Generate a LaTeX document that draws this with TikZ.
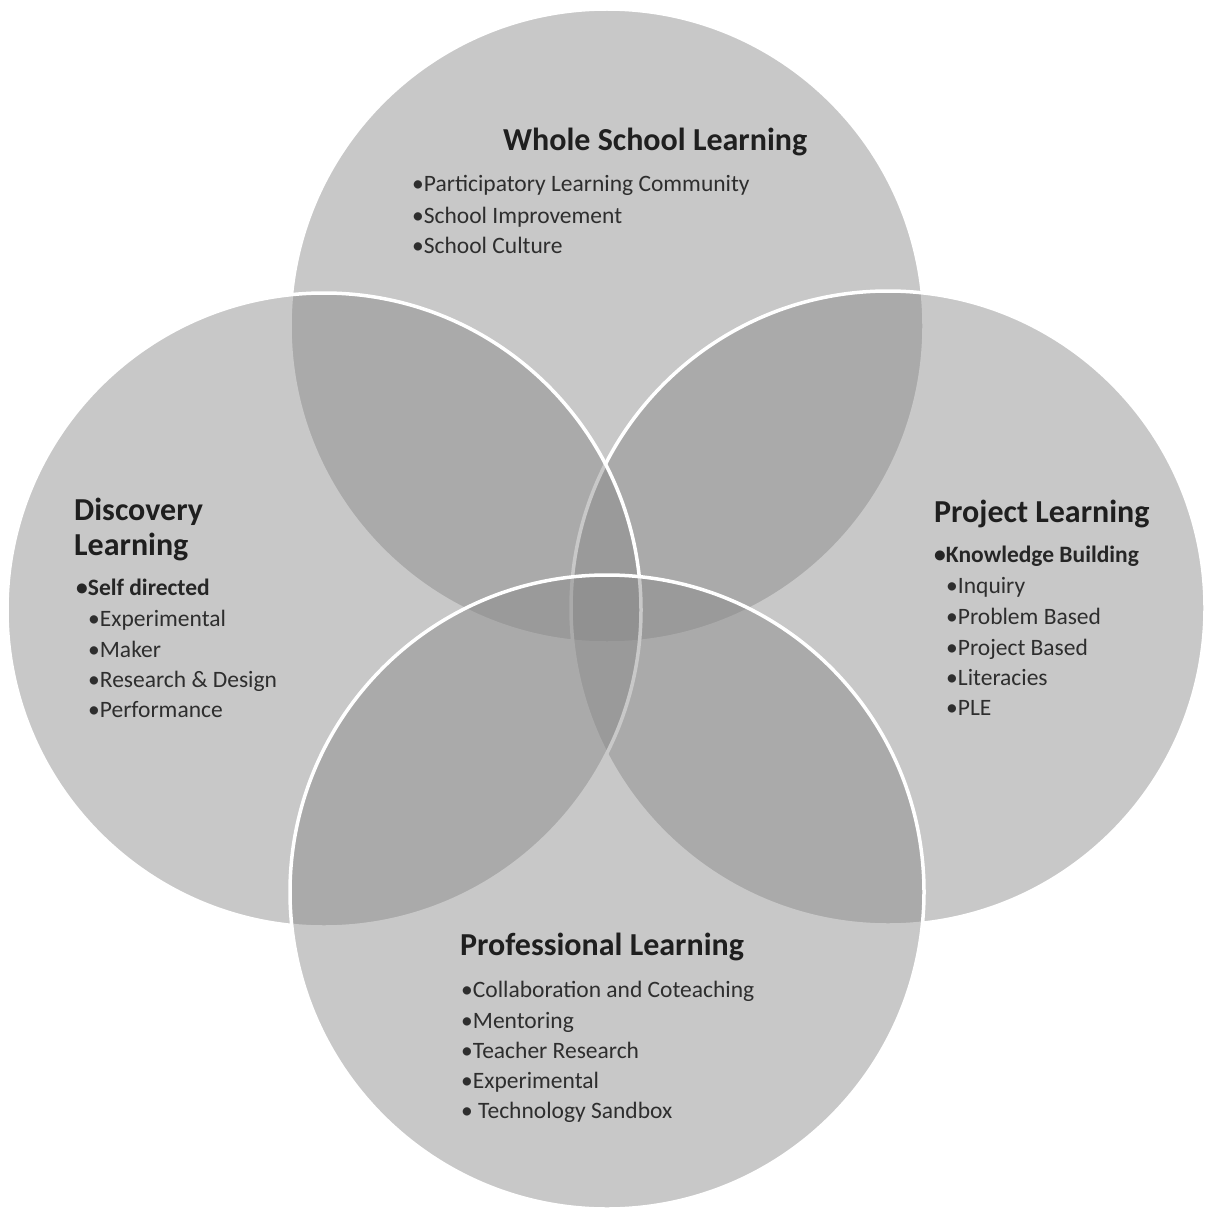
\documentclass[tikz,border=0pt]{standalone}
\usepackage{fontspec}
\setmainfont{Carlito}
\begin{document}
\begin{tikzpicture}[x=1pt,y=-1pt,
  ring/.style={circle, minimum size=634pt, inner sep=0pt,
    fill=black!47, fill opacity=0.45, draw=white, draw opacity=1, line width=3.5pt},
  heading/.style={anchor=base west, inner sep=0pt, font=\fontsize{32}{37}\selectfont\bfseries, text=black!88},
  lead/.style={anchor=base west, inner sep=0pt, font=\fontsize{23.5}{28}\selectfont\bfseries, text=black!85},
  item/.style={anchor=base west, inner sep=0pt, font=\fontsize{23.5}{28}\selectfont, text=black!82}]
\useasboundingbox (0,0) rectangle (1206,1209);
\fill[white] (0,0) rectangle (1206,1209);

% the four overlapping circles
\node[ring] (whole) at (607,326) {};
\node[ring] (project) at (888,608) {};
\node[ring] (discovery) at (324,610) {};
\node[ring] (professional) at (607,892) {};

% Whole School Learning
\node[heading] (wT) at (503,151) {Whole School Learning};
\node[item] (w1) at (412,192) {•Participatory Learning Community};
\node[item] (w2) at (412,223) {•School Improvement};
\node[item] (w3) at (412,253) {•School Culture};

% Discovery Learning
\node[heading] (dT1) at (74,520) {Discovery};
\node[heading] (dT2) at (74,555) {Learning};
\node[lead] (d0) at (76,595) {•Self directed};
\node[item] (d1) at (88,626) {•Experimental};
\node[item] (d2) at (88,657) {•Maker};
\node[item] (d3) at (88,687) {•Research \& Design};
\node[item] (d4) at (88,717) {•Performance};

% Project Learning
\node[heading] (pT) at (934,522) {Project Learning};
\node[lead] (p0) at (934,562) {•Knowledge Building};
\node[item] (p1) at (946,593) {•Inquiry};
\node[item] (p2) at (946,624) {•Problem Based};
\node[item] (p3) at (946,655) {•Project Based};
\node[item] (p4) at (946,685) {•Literacies};
\node[item] (p5) at (946,715) {•PLE};

% Professional Learning
\node[heading] (fT) at (460,955) {Professional Learning};
\node[item] (f1) at (461,997) {•Collaboration and Coteaching};
\node[item] (f2) at (461,1028) {•Mentoring};
\node[item] (f3) at (461,1058) {•Teacher Research};
\node[item] (f4) at (461,1088) {•Experimental};
\node[item] (f5) at (461,1118) {• Technology Sandbox};
\end{tikzpicture}
\end{document}
